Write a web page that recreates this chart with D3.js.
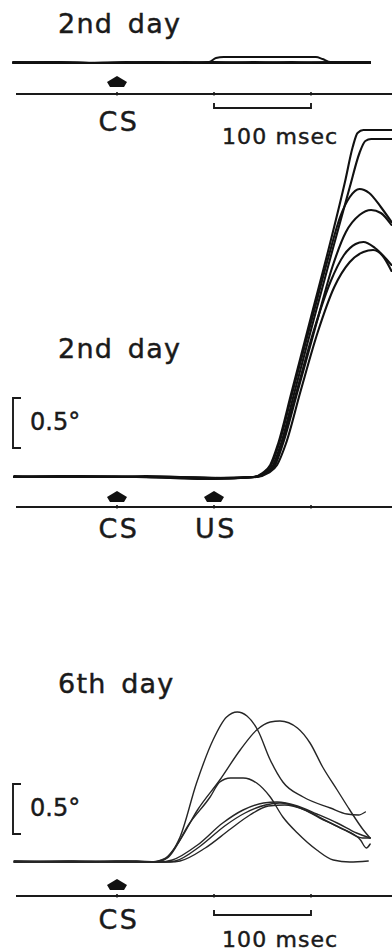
<!DOCTYPE html>
<html>
<head>
<meta charset="utf-8">
<script src="https://cdn.jsdelivr.net/npm/d3@7"></script>
<style>
  html, body { margin: 0; padding: 0; background: #fff; }
  svg { display: block; }
  text { font-family: "DejaVu Sans", sans-serif; fill: #1a1a1a; stroke: #1a1a1a; stroke-width: 0.45px; }
</style>
</head>
<body>
<svg id="chart" width="392" height="952"></svg>
<script>
// Eyelid response traces, time in msec from CS onset, amplitude in degrees.

const titles = ["2nd day", "2nd day", "6th day"];
const stimulusLabels = [["CS"], ["CS", "US"], ["CS"]];
const stimulusTimes = [[0], [0, 100], [0]];
const timeTicks = [0, 100, 200];
const scaleBarMs = [100, 200];
const scaleBarLabel = "100 msec";
const ampBarDeg = 0.5;
const ampBarLabel = "0.5°";

// Top panel: 2nd day, CS only (almost no response)
const day2TestTraces = [
  [[-107, 0.00], [-60, 0.01], [-20, 0.00], [30, 0.01], [80, 0.00], [95, 0.01], [102, 0.05], [110, 0.06], [205, 0.06], [212, 0.04], [220, 0.01], [261, 0.00]],
  [[-107, 0.01], [-50, 0.00], [0, 0.00], [40, 0.01], [90, 0.00], [140, 0.01], [200, 0.00], [261, 0.00]],
  [[-107, 0.00], [-40, 0.00], [10, 0.01], [60, 0.00], [120, 0.00], [180, 0.01], [230, 0.00], [261, 0.01]],
  [[-107, 0.00], [-70, 0.01], [-10, 0.00], [50, 0.00], [100, 0.01], [160, 0.00], [220, 0.01], [261, 0.00]],
  [[-107, 0.01], [-30, 0.00], [20, 0.00], [70, 0.01], [130, 0.00], [190, 0.00], [240, 0.01], [261, 0.01]]
];

// Middle panel: 2nd day, CS + US paired trials
const day2PairedTraces = [
  [[-106, 0], [-40, 0.01], [20, 0], [100, -0.01], [140, 0.00], [150, 0.04], [158, 0.12], [166, 0.33], [180, 0.85], [200, 1.60], [220, 2.35], [235, 2.95], [243, 3.30], [248, 3.44], [254, 3.47], [283, 3.47]],
  [[-106, 0], [-30, 0.00], [30, 0.01], [100, -0.01], [142, 0.00], [153, 0.04], [161, 0.12], [169, 0.33], [183, 0.85], [203, 1.58], [223, 2.30], [240, 2.90], [250, 3.24], [256, 3.36], [262, 3.38], [283, 3.38]],
  [[-106, 0.01], [-50, 0], [40, 0], [100, -0.02], [141, 0.00], [151, 0.04], [159, 0.12], [167, 0.33], [181, 0.85], [201, 1.58], [218, 2.20], [230, 2.60], [240, 2.80], [250, 2.88], [260, 2.84], [272, 2.70], [283, 2.55]],
  [[-106, 0], [-20, 0.00], [50, 0], [110, -0.01], [143, 0.00], [154, 0.04], [163, 0.12], [171, 0.33], [186, 0.85], [206, 1.55], [222, 2.10], [236, 2.45], [250, 2.62], [262, 2.67], [272, 2.64], [283, 2.52]],
  [[-106, 0], [-60, 0.01], [30, 0], [90, -0.02], [142, 0.00], [153, 0.04], [162, 0.12], [170, 0.33], [185, 0.85], [204, 1.50], [220, 1.95], [234, 2.22], [246, 2.33], [254, 2.35], [266, 2.29], [283, 2.12]],
  [[-106, 0], [-10, 0.00], [60, 0], [120, -0.01], [144, 0.00], [156, 0.04], [165, 0.12], [174, 0.33], [189, 0.85], [207, 1.45], [224, 1.90], [240, 2.15], [254, 2.25], [264, 2.27], [274, 2.21], [283, 2.06]]
];

// Bottom panel: 6th day, CS only (conditioned responses)
const day6TestTraces = [
  [[-106, 0], [-50, 0.01], [0, 0], [34, 0.00], [47, 0.02], [65, 0.25], [82, 0.79], [99, 1.22], [113, 1.45], [124, 1.50], [134, 1.46], [145, 1.32], [158, 1.02], [171, 0.80], [192, 0.65], [220, 0.54], [237, 0.48], [249, 0.47], [256, 0.50]],
  [[-106, 0.01], [-40, 0], [10, 0.01], [34, 0.00], [50, 0.04], [65, 0.22], [83, 0.52], [106, 0.82], [127, 1.12], [144, 1.32], [158, 1.40], [168, 1.41], [186, 1.34], [199, 1.19], [212, 0.95], [227, 0.72], [240, 0.52], [254, 0.32], [261, 0.24]],
  [[-106, 0], [-30, 0.00], [20, 0.01], [40, 0.00], [52, 0.04], [75, 0.39], [96, 0.65], [106, 0.80], [117, 0.84], [130, 0.84], [144, 0.79], [158, 0.65], [171, 0.45], [186, 0.29], [206, 0.12], [223, 0.02], [240, 0.00], [259, 0.01]],
  [[-106, 0], [-60, 0.00], [0, 0.01], [44, 0.00], [57, 0.02], [83, 0.17], [109, 0.39], [130, 0.52], [151, 0.59], [165, 0.60], [186, 0.56], [206, 0.48], [227, 0.39], [247, 0.29], [261, 0.24]],
  [[-106, 0.01], [-20, 0], [30, 0.00], [50, 0.00], [60, 0.01], [86, 0.16], [111, 0.36], [132, 0.49], [153, 0.57], [168, 0.59], [189, 0.54], [209, 0.44], [230, 0.34], [251, 0.22], [257, 0.14], [261, 0.18]],
  [[-106, 0], [-45, 0.01], [15, 0.00], [55, 0.00], [65, 0.01], [91, 0.14], [117, 0.33], [137, 0.47], [156, 0.56], [173, 0.57], [194, 0.52], [214, 0.42], [235, 0.32], [253, 0.24], [261, 0.24]]
];

const svg = d3.select("#chart");

// One time scale shared by all three records
const x = d3.scaleLinear().domain([0, 100]).range([117, 214]);

const panels = [
  { traces: day2TestTraces,   base: 63,  axisY: 94,  arrowGap: 7, titleY: 33,  labelY: 131, scaleBarY: 108, scaleTextY: 144, ampBar: false, ampTextY: 0,   width: 1.9, color: "#111" },
  { traces: day2PairedTraces, base: 477, axisY: 507, arrowGap: 5, titleY: 358, labelY: 538, scaleBarY: null, scaleTextY: null, ampBar: true, ampTextY: 430, width: 2.1, color: "#111" },
  { traces: day6TestTraces,   base: 862, axisY: 896, arrowGap: 6, titleY: 693, labelY: 929, scaleBarY: 915, scaleTextY: 947, ampBar: true, ampTextY: 816, width: 1.4, color: "#262626" }
];

// Arrow marker shape (pointing up), base at 0
const arrowShape = [[-10, -5], [0, -11], [10, -5], [7, 0], [-7, 0]];

panels.forEach((p, i) => {
  const g = svg.append("g");
  const y = d3.scaleLinear().domain([0, 1]).range([p.base, p.base - 100]);

  const line = d3.line()
    .x(d => x(d[0]))
    .y(d => y(d[1]))
    .curve(d3.curveMonotoneX);

  // Title
  g.append("text")
    .attr("x", 58).attr("y", p.titleY)
    .attr("font-size", 27)
    .attr("letter-spacing", 1.2)
    .attr("word-spacing", 5)
    .text(titles[i]);

  // Traces
  g.selectAll("path.trace")
    .data(p.traces)
    .join("path")
    .attr("class", "trace")
    .attr("d", line)
    .attr("fill", "none")
    .attr("stroke", p.color)
    .attr("stroke-width", p.width)
    .attr("stroke-linejoin", "round")
    .attr("stroke-linecap", "round");

  // Time base line with small ticks
  g.append("line")
    .attr("x1", 16).attr("x2", 392)
    .attr("y1", p.axisY).attr("y2", p.axisY)
    .attr("stroke", "#1a1a1a").attr("stroke-width", 1.9);
  g.selectAll("line.tick")
    .data(timeTicks)
    .join("line")
    .attr("class", "tick")
    .attr("x1", d => x(d)).attr("x2", d => x(d))
    .attr("y1", p.axisY - 2).attr("y2", p.axisY + 1.5)
    .attr("stroke", "#1a1a1a").attr("stroke-width", 1.6);

  // Stimulus arrows and labels
  g.selectAll("path.arrow")
    .data(stimulusTimes[i])
    .join("path")
    .attr("class", "arrow")
    .attr("d", d => "M" + arrowShape.map(a => [x(d) + a[0], p.axisY - p.arrowGap + a[1]].join(",")).join("L") + "Z")
    .attr("fill", "#111");
  g.selectAll("text.stim")
    .data(stimulusTimes[i])
    .join("text")
    .attr("class", "stim")
    .attr("x", d => x(d) + 2)
    .attr("y", p.labelY)
    .attr("text-anchor", "middle")
    .attr("font-size", 27)
    .attr("letter-spacing", 2.5)
    .text((d, j) => stimulusLabels[i][j]);

  // 100 msec scale bar
  if (p.scaleBarY !== null) {
    const x0 = x(scaleBarMs[0]), x1 = x(scaleBarMs[1]);
    g.append("path")
      .attr("d", `M${x0},${p.scaleBarY - 5}L${x0},${p.scaleBarY}L${x1},${p.scaleBarY}L${x1},${p.scaleBarY - 5}`)
      .attr("fill", "none").attr("stroke", "#1a1a1a").attr("stroke-width", 1.9);
    g.append("text")
      .attr("x", x0 + 8).attr("y", p.scaleTextY)
      .attr("font-size", 22)
      .attr("letter-spacing", 1.1)
      .text(scaleBarLabel);
  }

  // 0.5 degree amplitude bracket
  if (p.ampBar) {
    const top = p.ampTextY - 32;
    const bot = top + (y(0) - y(ampBarDeg));
    g.append("path")
      .attr("d", `M21,${top}L13,${top}L13,${bot}L21,${bot}`)
      .attr("fill", "none").attr("stroke", "#1a1a1a").attr("stroke-width", 1.9);
    g.append("text")
      .attr("x", 30).attr("y", p.ampTextY)
      .attr("font-size", 24)
      .text(ampBarLabel);
  }
});
</script>
</body>
</html>
